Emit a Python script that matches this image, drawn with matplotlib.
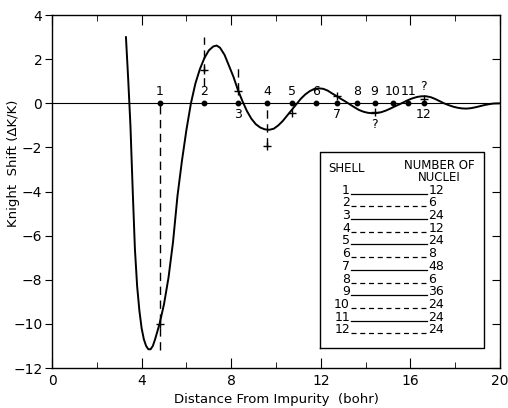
import matplotlib
matplotlib.use("Agg")
import matplotlib.pyplot as plt
from matplotlib.ticker import MultipleLocator

# Knight shift curve
curve_x = [3.30, 3.40, 3.50, 3.60, 3.70, 3.80, 3.90, 4.00, 4.10, 4.20, 4.30, 4.40,
           4.50, 4.60, 4.70, 4.80, 5.00, 5.20, 5.40, 5.60, 5.80, 6.00, 6.20, 6.40,
           6.60, 6.80, 7.00, 7.20, 7.35, 7.50, 7.70, 7.90, 8.10, 8.30, 8.50, 8.70,
           8.90, 9.10, 9.30, 9.50, 9.70, 9.90, 10.10, 10.30, 10.50, 10.70, 10.90,
           11.10, 11.30, 11.50, 11.70, 11.90, 12.10, 12.30, 12.50, 12.70, 12.90,
           13.10, 13.30, 13.50, 13.70, 13.90, 14.10, 14.30, 14.50, 14.70, 14.90,
           15.10, 15.30, 15.50, 15.70, 15.90, 16.10, 16.30, 16.50, 16.70, 16.90,
           17.10, 17.30, 17.50, 17.70, 17.90, 18.10, 18.30, 18.50, 18.70, 18.90,
           19.10, 19.30, 19.50, 19.70, 20.00]
curve_y = [3.0, 1.1, -1.0, -3.9, -6.6, -8.3, -9.4, -10.2, -10.7, -11.0, -11.15, -11.15,
           -11.0, -10.7, -10.35, -10.0, -9.1, -7.9, -6.3, -4.2, -2.6, -1.2, 0.0, 0.9,
           1.55, 2.05, 2.4, 2.58, 2.62, 2.52, 2.2, 1.7, 1.2, 0.6, 0.1, -0.35,
           -0.7, -0.95, -1.1, -1.18, -1.2, -1.15, -1.0, -0.8, -0.55, -0.3, -0.05,
           0.2, 0.4, 0.55, 0.65, 0.68, 0.66, 0.58, 0.45, 0.33, 0.2,
           0.08, -0.05, -0.18, -0.3, -0.38, -0.43, -0.45, -0.44, -0.4, -0.33,
           -0.24, -0.14, -0.05, 0.05, 0.15, 0.23, 0.29, 0.32, 0.32, 0.28,
           0.2, 0.1, 0.0, -0.08, -0.15, -0.2, -0.23, -0.24, -0.22, -0.18,
           -0.13, -0.08, -0.04, -0.01, 0.0]

# Shells
shell_ids = ["1", "2", "3", "4", "5", "6", "7", "8", "9", "10", "11", "12"]
shell_r = [4.8, 6.8, 8.3, 9.6, 10.7, 11.8, 12.7, 13.6, 14.4, 15.2, 15.9, 16.6]
shell_label_above = [True, True, False, True, True, True, False, True, True, True, True, False]
nuclei = ["12", "6", "24", "12", "24", "8", "48", "6", "36", "24", "24", "24"]
legend_dashed = [False, True, False, True, False, True, False, True, False, True, False, True]

# Computed points (+) and their dashed drop lines
plus_x = [4.8, 6.8, 8.3, 9.6, 10.7, 12.7, 14.4, 16.6]
plus_y = [-10.0, 1.5, 0.55, -1.95, -0.45, 0.35, -0.4, 0.2]
drop_x = [4.8, 6.8, 8.3, 9.6]
drop_top = [0.0, 3.0, 1.6, 0.0]
drop_bot = [-11.2, 0.8, 0.55, -1.95]
question_x = [14.4, 16.6]
question_y = [-0.95, 0.75]

fig = plt.figure(figsize=(5.08, 4.08), dpi=100)
ax = fig.add_axes([0.1024, 0.098, 0.882, 0.865])
ax.set_xlim(0, 20)
ax.set_ylim(-12, 4)

ax.axhline(0, color="black", lw=0.8)
ax.plot(curve_x, curve_y, color="black", lw=1.4)

for x, t, b in zip(drop_x, drop_top, drop_bot):
    ax.plot([x, x], [b, t], color="black", lw=1.0, ls=(0, (6, 4)))

ax.plot(plus_x, plus_y, ls="none", marker="+", ms=6, mew=1.0, color="black")
ax.plot(shell_r, [0] * len(shell_r), ls="none", marker="o", ms=3.2, color="black")

for sid, r, above in zip(shell_ids, shell_r, shell_label_above):
    if above:
        ax.text(r, 0.22, sid, ha="center", va="bottom", fontsize=9)
    else:
        ax.text(r, -0.2, sid, ha="center", va="top", fontsize=9)

for qx, qy in zip(question_x, question_y):
    ax.text(qx, qy, "?", ha="center", va="center", fontsize=9)

# Legend box
box_l, box_r, box_b, box_t = 11.95, 19.3, -11.1, -2.2
ax.plot([box_l, box_r, box_r, box_l, box_l], [box_b, box_b, box_t, box_t, box_b],
        color="black", lw=1.0)
ax.text(12.35, -2.95, "SHELL", fontsize=8.5, ha="left", va="center")
ax.text(17.3, -2.8, "NUMBER OF", fontsize=8.5, ha="center", va="center")
ax.text(17.3, -3.38, "NUCLEI", fontsize=8.5, ha="center", va="center")
row_top = -4.1
row_step = -0.575
for i, (sid, n, d) in enumerate(zip(shell_ids, nuclei, legend_dashed)):
    yy = row_top + i * row_step
    ax.text(13.3, yy, sid, fontsize=9, ha="right", va="baseline")
    ax.plot([13.35, 16.75], [yy, yy], color="black", lw=0.9,
            ls=(0, (4, 3)) if d else "-")
    ax.text(16.8, yy, n, fontsize=9, ha="left", va="baseline")

ax.xaxis.set_major_locator(MultipleLocator(4))
ax.xaxis.set_minor_locator(MultipleLocator(2))
ax.yaxis.set_major_locator(MultipleLocator(2))
ax.tick_params(axis="x", which="major", direction="in", top=True, length=7, labelsize=10, pad=4)
ax.tick_params(axis="x", which="minor", direction="in", top=True, length=4)
ax.tick_params(axis="y", which="major", direction="out", left=True, length=5, labelsize=10, pad=2)
ax.tick_params(axis="y", which="major", right=True)
for t in ax.yaxis.get_major_ticks():
    t.tick2line.set_marker(matplotlib.lines.TICKLEFT)
    t.tick2line.set_markersize(6)
for sp in ax.spines.values():
    sp.set_linewidth(1.0)

ax.set_xlabel("Distance From Impurity  (bohr)", fontsize=9.5, labelpad=4)
ax.set_ylabel("Knight  Shift (ΔK/K)", fontsize=9.5)
ax.yaxis.set_label_coords(-0.072, 0.58)

fig.savefig("out.png", dpi=100)
